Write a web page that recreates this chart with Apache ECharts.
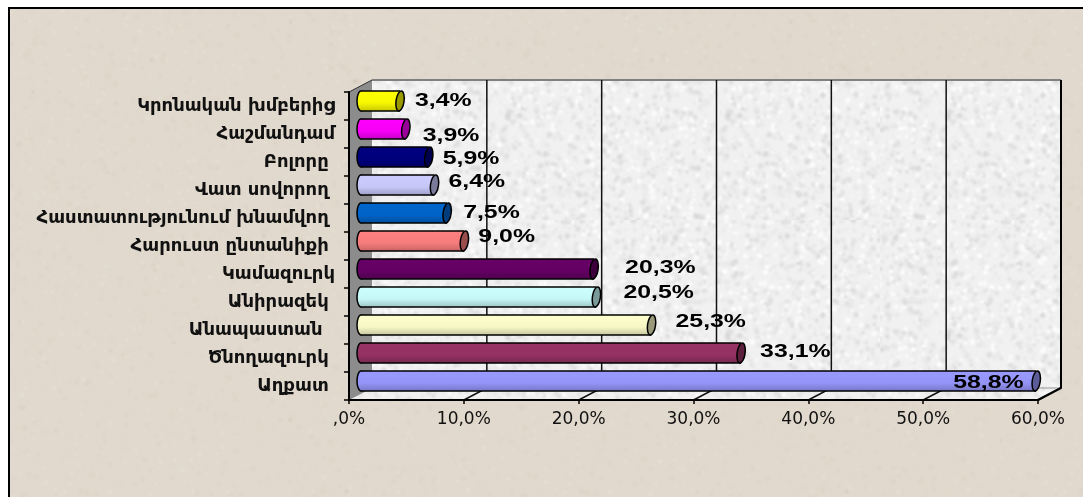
<!DOCTYPE html>
<html>
<head>
<meta charset="utf-8">
<title>chart</title>
<style>
html, body { margin: 0; padding: 0; background: #fff; }
#main { width: 1083px; height: 497px; }
</style>
<script src="https://cdn.jsdelivr.net/npm/echarts@6/dist/echarts.min.js"></script>
</head>
<body>
<div id="main"></div>
<script>
// data, from the bottom bar up to the top one
var categories = ['Աղքատ ', 'Ծնողազուրկ ', 'Անապաստան  ', 'Անիրազեկ ', 'Կամազուրկ', 'Հարուստ ընտանիքի ',
    'Հաստատությունում խնամվող ', 'Վատ սովորող ', 'Բոլորը ', 'Հաշմանդամ', 'Կրոնական խմբերից'];
var values = [58.8, 33.1, 25.3, 20.5, 20.3, 9.0, 7.5, 6.4, 5.9, 3.9, 3.4];
var xTicks = [0, 10, 20, 30, 40, 50, 60];
var xTickLabels = [',0%', '10,0%', '20,0%', '30,0%', '40,0%', '50,0%', '60,0%'];

// styles
var barColors = ['#9999ff', '#993366', '#ffffcc', '#ccffff', '#660066', '#ff8080',
    '#0066cc', '#ccccff', '#000080', '#ff00ff', '#ffff00'];
// hand placed data labels in the original: [dx from value, dy from band centre]
var labelNudge = [[-71, -3], [31, -6], [36, -8], [39, -9], [43, -6], [26, -9],
    [28, -5], [26, -8], [26, -3], [29, 2], [27, -5]];
var depthX = 23, depthY = -12;
var barOffsetX = 12, barOffsetY = -5, barHeight = 20, capRx = 4;

// small seeded generator, only used for the paper texture
function texture(base, size, count, tones, maxR, blur, specks) {
    var seed = 12345;
    function next() {
        seed = (seed * 16807) % 2147483647;
        return seed / 2147483647;
    }
    var c = document.createElement('canvas');
    c.width = c.height = size;
    var ctx = c.getContext('2d');
    ctx.fillStyle = base;
    ctx.fillRect(0, 0, size, size);
    ctx.filter = 'blur(' + blur + 'px)';
    for (var i = 0; i < count; i++) {
        ctx.fillStyle = tones[Math.floor(next() * tones.length)];
        ctx.beginPath();
        ctx.arc(next() * size, next() * size, 0.6 + next() * maxR, 0, Math.PI * 2);
        ctx.fill();
    }
    ctx.filter = 'blur(1px)';
    for (var j = 0; j < specks; j++) {
        ctx.fillStyle = 'rgba(170,160,150,.4)';
        ctx.fillRect(next() * size, next() * size, 1 + next() * 2, 1 + next() * 2);
    }
    return c;
}

var paper = texture('#e1d9cd', 500, 3400, ['rgba(236,229,218,.45)', 'rgba(216,207,194,.45)', 'rgba(228,220,208,.5)'], 1.6, 1, 24);
var wall = texture('#f1f1f1', 220, 1900, ['rgba(255,255,255,.75)', 'rgba(212,212,212,.6)', 'rgba(230,230,230,.7)'], 2.2, 0.8, 0);

function darken(hex, k) {
    var n = parseInt(hex.slice(1), 16);
    var r = Math.round((n >> 16 & 255) * k), g = Math.round((n >> 8 & 255) * k), b = Math.round((n & 255) * k);
    return 'rgb(' + r + ',' + g + ',' + b + ')';
}

// back wall, side wall, floor and gridlines
function renderWalls(params, api) {
    var b = params.coordSys;
    var left = b.x, top = b.y, right = b.x + b.width, bottom = b.y + b.height;
    var children = [
        { type: 'rect', shape: { x: left + depthX, y: top + depthY, width: b.width, height: b.height },
          style: { fill: { image: wall, repeat: 'repeat' } } },
        { type: 'polygon', shape: { points: [[left, bottom], [left + depthX, bottom + depthY], [right + depthX, bottom + depthY], [right, bottom]] },
          style: { fill: { image: wall, repeat: 'repeat' } } },
        { type: 'polygon', shape: { points: [[left, top], [left + depthX, top + depthY], [left + depthX, bottom + depthY], [left, bottom]] },
          style: { fill: '#8c8c8c' } },
        { type: 'line', shape: { x1: left, y1: top, x2: left + depthX, y2: top + depthY },
          style: { stroke: '#333', lineWidth: 1 } },
        { type: 'line', shape: { x1: left + depthX, y1: top + depthY, x2: right + depthX, y2: top + depthY },
          style: { stroke: '#808080', lineWidth: 2 } },
        { type: 'line', shape: { x1: left + depthX, y1: bottom + depthY, x2: right + depthX, y2: bottom + depthY },
          style: { stroke: '#999', lineWidth: 1 } },
        { type: 'line', shape: { x1: right, y1: bottom, x2: right + depthX, y2: bottom + depthY },
          style: { stroke: '#808080', lineWidth: 2 } }
    ];
    xTicks.forEach(function (t) {
        if (t === 0) return;
        var x = api.coord([t, 0])[0];
        children.push({ type: 'polyline', shape: { points: [[x, bottom], [x + depthX, bottom + depthY], [x + depthX, top + depthY]] },
            style: { fill: 'none', stroke: t === 60 ? '#000' : '#111', lineWidth: t === 60 ? 2 : 1.5 } });
    });
    return { type: 'group', children: children };
}

function renderBar(params, api) {
    var i = params.dataIndex;
    var p0 = api.coord([0, api.value(1)]);
    var p1 = api.coord([api.value(0), api.value(1)]);
    var x0 = p0[0] + barOffsetX, x1 = p1[0] + barOffsetX, cy = p0[1] + barOffsetY, h = barHeight;
    var color = barColors[i];
    var grad = new echarts.graphic.LinearGradient(0, 0, 0, 1, [
        { offset: 0, color: color },
        { offset: 0.6, color: darken(color, 0.97) },
        { offset: 1, color: darken(color, 0.78) }
    ]);
    return {
        type: 'group',
        children: [
            { type: 'ellipse', shape: { cx: x0, cy: cy, rx: capRx, ry: h / 2 },
              style: { fill: grad, stroke: '#000', lineWidth: 1.5 } },
            { type: 'rect', shape: { x: x0, y: cy - h / 2, width: x1 - x0, height: h },
              style: { fill: grad } },
            { type: 'line', shape: { x1: x0, y1: cy - h / 2, x2: x1, y2: cy - h / 2 },
              style: { stroke: '#000', lineWidth: 1.5 } },
            { type: 'line', shape: { x1: x0, y1: cy + h / 2, x2: x1, y2: cy + h / 2 },
              style: { stroke: '#000', lineWidth: 1.5 } },
            { type: 'ellipse', shape: { cx: 0, cy: 0, rx: capRx, ry: h / 2 }, x: x1, y: cy, rotation: -0.14,
              style: { fill: darken(color, 0.6), stroke: '#000', lineWidth: 1.5 } }
        ]
    };
}

function renderLabel(params, api) {
    var i = params.dataIndex;
    var p = api.coord([api.value(0), api.value(1)]);
    return {
        type: 'text',
        x: p[0] + labelNudge[i][0],
        y: p[1] + labelNudge[i][1],
        scaleX: 1.38,
        style: {
            text: values[i].toFixed(1).replace('.', ',') + '%',
            font: 'bold 18px "Liberation Sans", Arial, sans-serif',
            fill: '#000',
            textAlign: 'left',
            textVerticalAlign: 'middle'
        }
    };
}

var seriesData = values.map(function (v, i) { return [v, i]; });

var myChart = echarts.init(document.getElementById('main'));
myChart.setOption({
    animation: false,
    backgroundColor: 'transparent',
    graphic: [
        { type: 'rect', z: -10, shape: { x: 8, y: 7, width: 1075, height: 490 }, style: { fill: '#000' } },
        { type: 'rect', z: -9, shape: { x: 10, y: 9, width: 1073, height: 488 }, style: { fill: { image: paper, repeat: 'repeat' } } }
    ],
    grid: { left: 349, right: 45, top: 92, bottom: 97 },
    xAxis: {
        type: 'value', min: 0, max: 60, interval: 10, z: 6,
        axisLine: { show: true, lineStyle: { color: '#000', width: 2 } },
        axisTick: { show: true, length: 4, lineStyle: { color: '#000', width: 1.5 } },
        splitLine: { show: false },
        axisLabel: {
            margin: 11, color: '#111', fontFamily: '"DejaVu Sans", sans-serif', fontSize: 17,
            formatter: function (v) { return xTickLabels[xTicks.indexOf(v)]; }
        }
    },
    yAxis: {
        type: 'category', data: categories, z: 6,
        axisLine: { show: true, lineStyle: { color: '#000', width: 2 } },
        axisTick: { show: true, length: 5, lineStyle: { color: '#000', width: 1.5 } },
        splitLine: { show: false },
        axisLabel: {
            margin: 14, color: '#111', fontFamily: '"DejaVu Sans", sans-serif', fontSize: 18, fontWeight: 'bold'
        }
    },
    series: [
        { type: 'custom', z: 1, silent: true, clip: false, data: [[0, 0]], renderItem: renderWalls },
        { type: 'custom', z: 2, silent: true, clip: false, encode: { x: 0, y: 1 }, data: seriesData, renderItem: renderBar },
        { type: 'custom', z: 3, silent: true, clip: false, encode: { x: 0, y: 1 }, data: seriesData, renderItem: renderLabel }
    ]
});
</script>
</body>
</html>
